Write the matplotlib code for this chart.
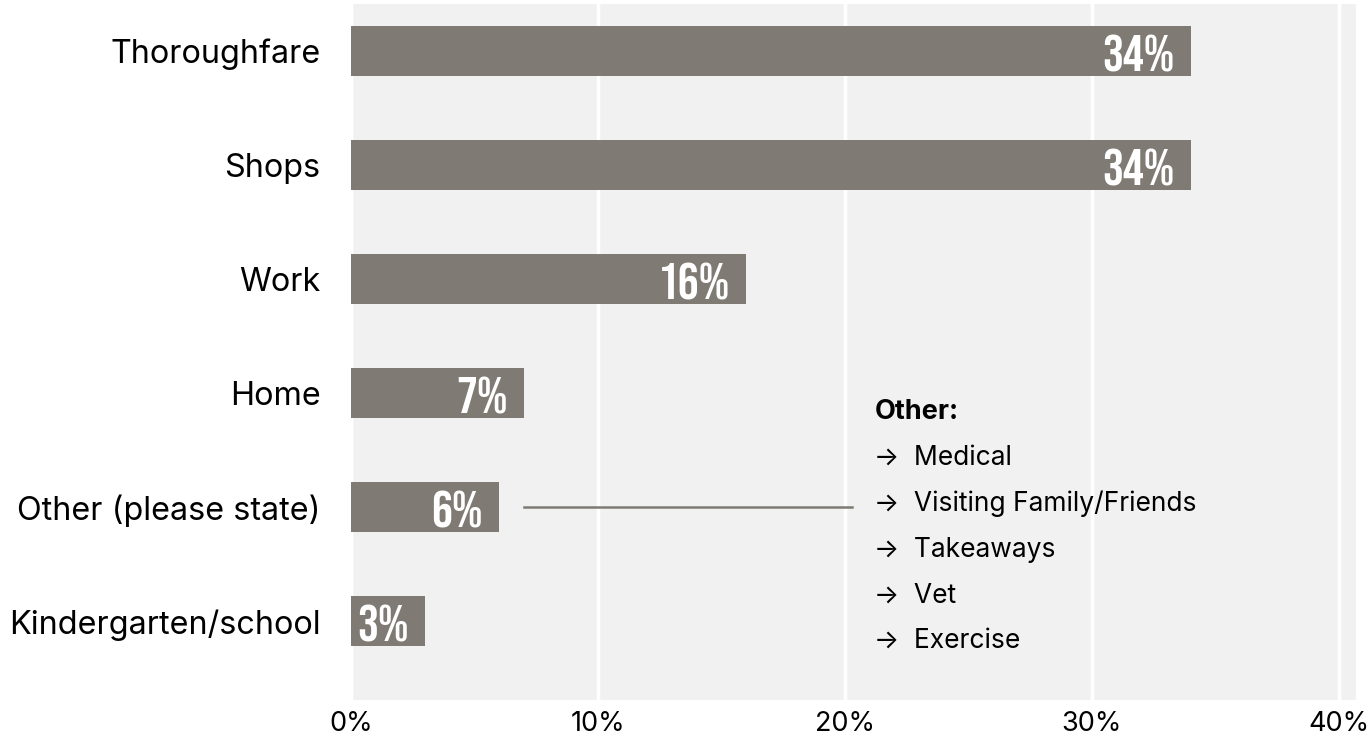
import matplotlib
matplotlib.use("Agg")
from matplotlib import pyplot as plt
from matplotlib import font_manager

categories = ["Thoroughfare", "Shops", "Work", "Home", "Other (please state)", "Kindergarten/school"]
shares = [34, 34, 16, 7, 6, 3]
tick_values = [0, 10, 20, 30, 40]
tick_labels = ["0%", "10%", "20%", "30%", "40%"]
other_title = "Other:"
other_items = ["Medical", "Visiting Family/Friends", "Takeaways", "Vet", "Exercise"]

BAR = "#7f7a73"
PANEL = "#f1f1f1"

installed = {f.name for f in font_manager.fontManager.ttflist}


def pick(*names):
    for n in names:
        if n in installed:
            return n
    return "DejaVu Sans"


base_font = pick("Inter", "Roboto")
value_font = pick("Bebas Neue", "Oswald", "Barlow Condensed", "Sofia Sans Extra Condensed", "Fjalla One")

plt.rcParams["font.family"] = [base_font, "DejaVu Sans"]

fig = plt.figure(figsize=(13.67, 7.51), dpi=100)
ax = fig.add_axes([351 / 1367, 1 - 700 / 751, (1356 - 351) / 1367, (700 - 4) / 751])
ax.set_facecolor(PANEL)

ypos = list(range(len(categories)))
ax.barh(ypos, shares, height=0.44, color=BAR, zorder=3)

for y, v in zip(ypos, shares):
    ax.text(v - 0.65, y + 0.02, f"{v}%", ha="right", va="center", color="white",
            fontsize=37.5, fontweight="bold", family=[value_font, "DejaVu Sans"], zorder=4)

ax.set_xlim(0, 40.7)
ax.set_ylim(5.69, -0.41)
ax.set_yticks(ypos)
ax.set_yticklabels(categories, fontsize=23.3)
ax.set_xticks(tick_values)
ax.set_xticklabels(tick_labels, fontsize=19.5)
ax.tick_params(axis="y", length=0, pad=22)
ax.tick_params(axis="x", length=0, pad=8)
for s in ax.spines.values():
    s.set_visible(False)
ax.grid(axis="x", color="white", linewidth=2.5, zorder=1)
ax.set_axisbelow(True)

# connector from the "Other" bar to the breakdown list
other_y = categories.index("Other (please state)")
ax.plot([shares[other_y] + 1.0, 20.3], [other_y, other_y], color=BAR, linewidth=1.8, zorder=3)

# breakdown list
ax.text(21.2, other_y - 0.83, other_title, fontsize=19.5, fontweight="bold", ha="left", va="center")
for i, item in enumerate(other_items):
    ax.text(21.2, other_y - 0.43 + i * 0.401, "\u2192  " + item, fontsize=19, ha="left", va="center")

fig.savefig("out.png", dpi=100, facecolor="white")
